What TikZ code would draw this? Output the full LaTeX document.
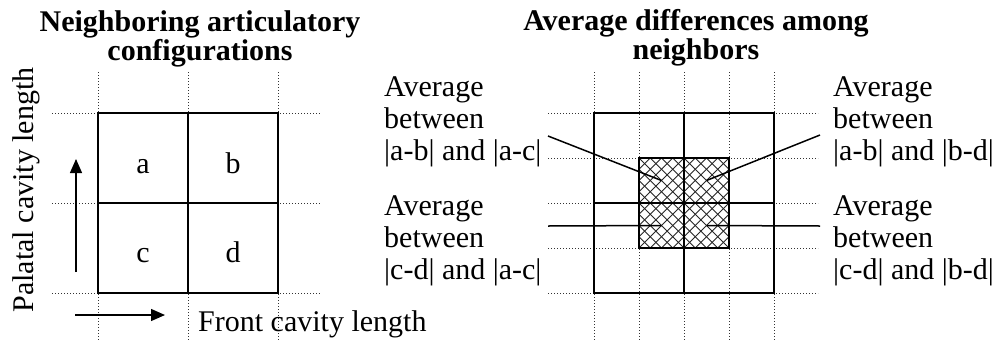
\documentclass[tikz,border=0pt]{standalone}
\usepackage{fontspec}
\setmainfont{Liberation Serif}
\usetikzlibrary{arrows.meta,positioning}

\begin{document}
\begin{tikzpicture}[x=1pt, y=-1pt,
  font=\fontsize{30}{32}\selectfont,
  txt/.style ={inner sep=0pt},
  hd/.style  ={txt, align=center, anchor=base,
               font=\fontsize{30}{29}\selectfont\bfseries},
  avg/.style ={txt, align=left, anchor=base west},
  cell/.style={txt, anchor=base},
  wall/.style={line width=1.5pt},
  dots/.style={line width=1pt, black!80, dash pattern=on 1pt off 2pt},
  hatch/.style={line width=1pt, black!85},
  ptr/.style ={line width=1.5pt},
  >={Triangle[length=14pt,width=12pt]}]
\useasboundingbox (0,0) rectangle (997,341);

% left panel
\node[hd] (tleft) at (200,60) {Neighboring articulatory\\configurations};
\foreach \x in {98,188,278} \draw[dots] (\x,72) -- (\x,341);
\foreach \y in {113,203,293} \draw[dots] (52,\y) -- (320,\y);
\draw[wall] (98,113) rectangle (278,293);
\draw[wall] (188,113) -- (188,293) (98,203) -- (278,203);
\node[cell] (ca) at (143,173) {a};
\node[cell] (cb) at (233,173) {b};
\node[cell] (cc) at (143,262) {c};
\node[cell] (cd) at (233,262) {d};

\coordinate (up0) at (76,272); \coordinate (up1) at (76,159);
\coordinate (rt0) at (75,315); \coordinate (rt1) at (165,315);
\draw[->, line width=1.3pt] (up0) -- (up1);
\draw[->, line width=1.3pt] (rt0) -- (rt1);
\node[txt, rotate=90] (palatal) at (26,190) {Palatal cavity length};
\node[txt, anchor=base west] (front) at (198,331) {Front cavity length};

% right panel
\node[hd] (tright) at (696,59) {Average differences among\\neighbors};
\foreach \x in {594,639,684,729,774} \draw[dots] (\x,72) -- (\x,341);
\foreach \y in {113,158,203,248,293} \draw[dots] (548,\y) -- (818,\y);
\fill[white] (639,158) rectangle (729,248);
\begin{scope}
  \clip (639,158) rectangle (729,248);
  \foreach \k in {0,...,16} {
    \draw[hatch] (549+\k*11.25,158) -- ++(90,90);
    \draw[hatch] (639+\k*11.25,158) -- ++(-90,90);
  }
\end{scope}
\draw[wall] (639,158) rectangle (729,248);
\draw[wall] (594,113) rectangle (774,293);
\draw[wall] (684,113) -- (684,293) (594,203) -- (774,203);

\coordinate (qab) at (661.5,180.5); \coordinate (qbd) at (706.5,180.5);
\coordinate (qac) at (661.5,225.5); \coordinate (qcd) at (706.5,225.5);
\node[avg] (lab) at (384,160) {Average\\between\\|a-b| and |a-c|};
\node[avg] (lcd) at (384,279) {Average\\between\\|c-d| and |a-c|};
\node[avg] (rab) at (833,160) {Average\\between\\|a-b| and |b-d|};
\node[avg] (rcd) at (833,279) {Average\\between\\|c-d| and |b-d|};
\coordinate (plab) at (548,136); \coordinate (plcd) at (548,226);
\coordinate (prab) at (820,135); \coordinate (prcd) at (820,226);
\draw[ptr] (plab) -- (qab);
\draw[ptr] (plcd) -- (qac);
\draw[ptr] (prab) -- (qbd);
\draw[ptr] (prcd) -- (qcd);
\end{tikzpicture}
\end{document}
